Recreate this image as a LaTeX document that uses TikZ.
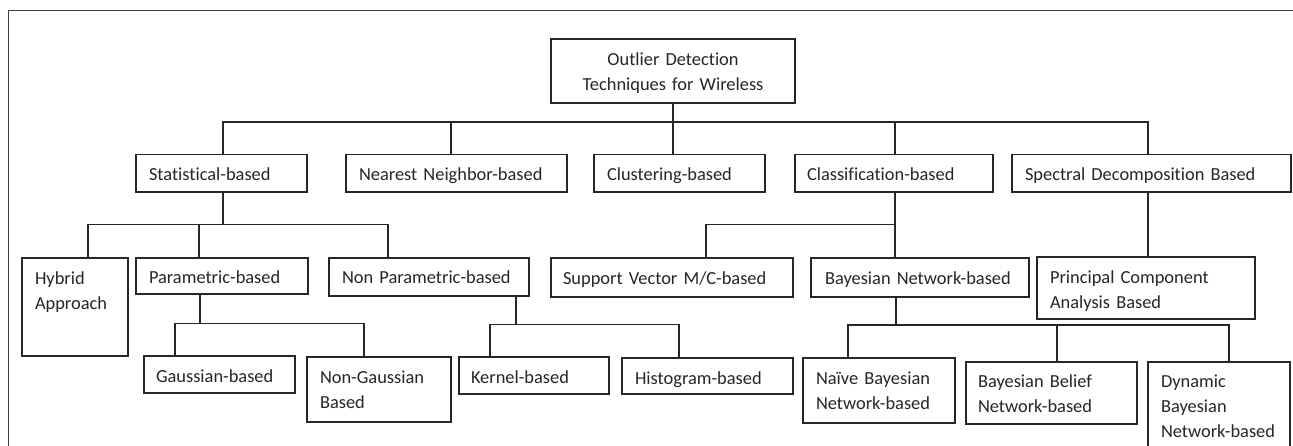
\documentclass[tikz,border=0pt]{standalone}
\usepackage{fontspec}
\setmainfont{Carlito}[Ligatures=NoCommon]
\newcommand\boxfont{\fontsize{18.4}{25}\selectfont\hyphenpenalty=10000\exhyphenpenalty=10000}
\tikzset{
  bx/.style={draw=black!85, line width=1.4pt, anchor=north west, outer sep=0pt,
    inner ysep=0pt, align=left, font=\boxfont, text=black!85},
  ln/.style={draw=black!85, line width=1.4pt},
  frame/.style={draw=black!75, line width=1pt}
}
% #1 name, #2 x, #3 y(top), #4 width, #5 height, #6 pad, #7 baseline offset, #8 text
\newcommand\mybox[8]{%
  \node[bx, text width=#4pt-2*#6pt, inner xsep=#6pt, text height=#7pt, text depth=#5pt-#7pt] (#1) at (#2,#3) {#8};}
\begin{document}
\begin{tikzpicture}[x=1pt,y=-1pt]
\useasboundingbox (0,0) rectangle (1293,445);
\clip (0,0) rectangle (1293,445);
\fill[white] (0,0) rectangle (1293,445);
\draw[frame] (8,460) -- (8,10) -- (1300,10);

% root
\node[bx, align=center, text width=244pt, inner xsep=0pt, text height=26pt, text depth=38pt] (root) at (551,39)
  {Outlier Detection\\Techniques for Wireless};

% level 1
\mybox{stat}{136}{154.5}{171}{37.5}{13}{26}{Statistical-based}
\mybox{nn}{346}{154.5}{221}{37.5}{13}{26}{Nearest Neighbor-based}
\mybox{clu}{594}{154.5}{171}{37.5}{13}{26}{Clustering-based}
\mybox{cls}{795}{154.5}{198}{37.5}{12}{26}{Classification-based}
\mybox{spe}{1012}{154.5}{279}{37.5}{13}{26}{Spectral Decomposition Based}

% level 2
\mybox{hyb}{22}{258}{106}{98}{13}{26.5}{Hybrid\\Approach}
\mybox{par}{136}{258}{172}{36}{13}{25.5}{Parametric-based}
\mybox{npar}{329}{258}{200}{38}{13}{25.5}{Non Parametric-based}
\mybox{sv}{551}{258}{242}{39}{12}{26.5}{Support Vector M/C-based}
\mybox{bay}{811}{258}{218}{39}{14}{26.5}{Bayesian Network-based}
\mybox{pca}{1037}{257}{218}{62}{13}{26.5}{Principal Component\\Analysis Based}

% level 3
\mybox{gau}{144}{356}{151}{37}{12}{26.5}{Gaussian-based}
\mybox{ngau}{307}{357}{144}{65}{13}{26.5}{Non-Gaussian\\Based}
\mybox{ker}{459}{357}{150}{37}{12}{26.5}{Kernel-based}
\mybox{his}{622}{358}{171}{36}{13}{26.5}{Histogram-based}
\mybox{nai}{803}{358}{152}{65}{13}{26.5}{Naïve Bayesian\\Network-based}
\mybox{bel}{966}{362}{171}{62}{12}{25.5}{Bayesian Belief\\Network-based}
\mybox{dyn}{1148}{362}{142}{100}{13}{25.5}{Dynamic\\Bayesian\\Network-based}

% bus coordinates
\coordinate (a-stat) at (223,122);
\coordinate (a-nn) at (451,122);
\coordinate (a-cls) at (895,122);
\coordinate (a-spe) at (1148,122);
\coordinate (b-stat) at (223,224.5);
\coordinate (b-hyb) at (88,224.5);
\coordinate (b-par) at (199,224.5);
\coordinate (b-npar) at (388,224.5);
\coordinate (b-sv) at (706,224.5);
\coordinate (b-cls) at (895,224.5);
\coordinate (c-par) at (200,323.5);
\coordinate (c-gau) at (175,323.5);
\coordinate (c-ngau) at (364,323.5);
\coordinate (c-npar) at (516,324.5);
\coordinate (c-ker) at (490,324.5);
\coordinate (c-his) at (679,324.5);
\coordinate (c-bay) at (896,325);
\coordinate (c-nai) at (848,325);
\coordinate (c-bel) at (1057,325);
\coordinate (c-dyn) at (1229,325);

% level 1 connectors
\draw[ln] (root) -- (root |- clu.north);
\draw[ln] (a-stat |- stat.north) -- (a-stat) -- (a-spe) -- (a-spe |- spe.north);
\draw[ln] (a-nn) -- (a-nn |- nn.north);
\draw[ln] (a-cls) -- (a-cls |- cls.north);

% level 2 connectors
\draw[ln] (b-stat |- stat.south) -- (b-stat);
\draw[ln] (b-hyb |- hyb.north) -- (b-hyb) -- (b-npar) -- (b-npar |- npar.north);
\draw[ln] (b-par) -- (b-par |- par.north);
\draw[ln] (b-cls |- cls.south) -- (b-cls |- bay.north);
\draw[ln] (b-sv |- sv.north) -- (b-sv) -- (b-cls);
\draw[ln] (a-spe |- spe.south) -- (a-spe |- pca.north);

% level 3 connectors
\draw[ln] (c-par |- par.south) -- (c-par);
\draw[ln] (c-gau |- gau.north) -- (c-gau) -- (c-ngau) -- (c-ngau |- ngau.north);
\draw[ln] (c-npar |- npar.south) -- (c-npar);
\draw[ln] (c-ker |- ker.north) -- (c-ker) -- (c-his) -- (c-his |- his.north);
\draw[ln] (c-bay |- bay.south) -- (c-bay);
\draw[ln] (c-nai |- nai.north) -- (c-nai) -- (c-dyn) -- (c-dyn |- dyn.north);
\draw[ln] (c-bel) -- (c-bel |- bel.north);
\end{tikzpicture}
\end{document}
